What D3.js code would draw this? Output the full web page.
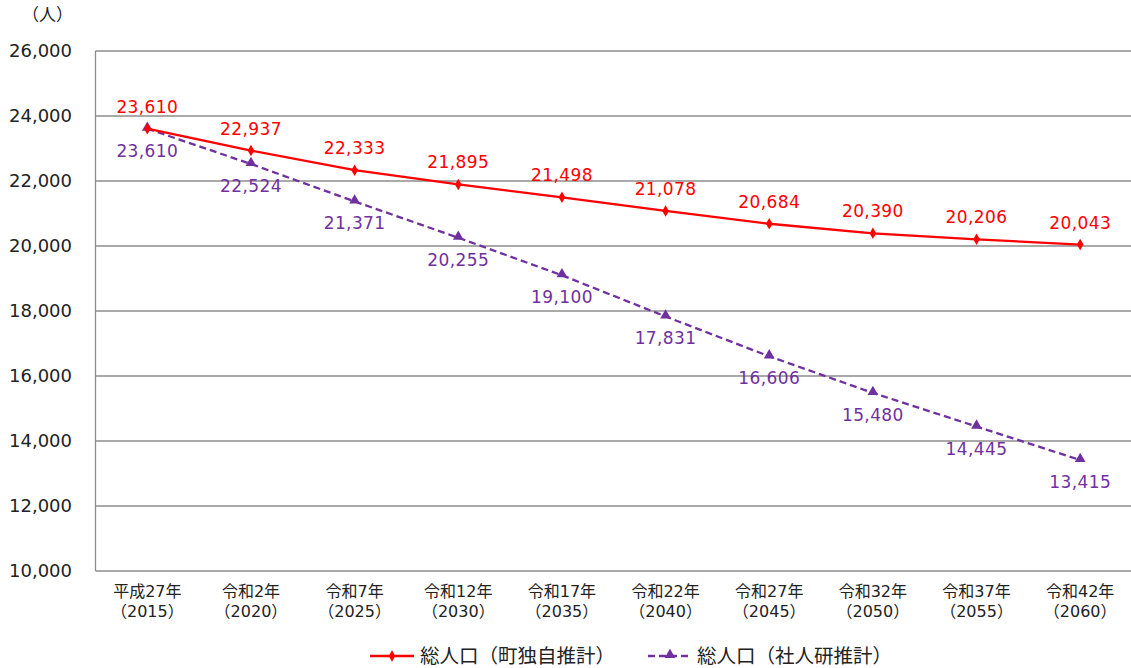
<!DOCTYPE html>
<html><head><meta charset="utf-8">
<script src="https://cdn.jsdelivr.net/npm/d3@7"></script>
<style>body{margin:0;background:#fff}svg{display:block}text{font-family:"DejaVu Sans","Noto Sans CJK JP",sans-serif}</style>
</head><body><svg id="c" width="1131" height="668"></svg>
<script>
const categories = ["平成27年","令和2年","令和7年","令和12年","令和17年","令和22年","令和27年","令和32年","令和37年","令和42年"];
const years = ["（2015）","（2020）","（2025）","（2030）","（2035）","（2040）","（2045）","（2050）","（2055）","（2060）"];
const townEstimate = [23610,22937,22333,21895,21498,21078,20684,20390,20206,20043];
const ipssEstimate = [23610,22524,21371,20255,19100,17831,16606,15480,14445,13415];
const yTicks = [10000,12000,14000,16000,18000,20000,22000,24000,26000];
const seriesNames = ["総人口（町独自推計）","総人口（社人研推計）"];

const svg = d3.select("#c");
const L = 95.5, R = 1132, T = 51, B = 571;
const x = d3.scaleBand().domain(categories).range([L, R]);
const y = d3.scaleLinear().domain([10000, 26000]).range([B, T]);
const fmt = d3.format(",");
const numFont = "'DejaVu Sans',sans-serif";

// gridlines
svg.append("g").selectAll("line").data(yTicks).join("line")
  .attr("x1", L).attr("x2", R).attr("y1", d => y(d)).attr("y2", d => y(d))
  .attr("stroke", "#8c8c8c").attr("stroke-width", 1.3);
svg.append("line").attr("x1", L).attr("x2", L).attr("y1", T).attr("y2", B)
  .attr("stroke", "#8c8c8c").attr("stroke-width", 1.3);

// y axis labels
const yAxis = d3.axisLeft(y).tickValues(yTicks).tickFormat(fmt).tickSize(0).tickPadding(0);
const yg = svg.append("g").attr("transform", `translate(72,0)`).call(yAxis);
yg.select(".domain").remove();
yg.selectAll("text").attr("font-size", 18).attr("fill", "#222")
  .style("font-family", numFont);
svg.append("text").attr("x", 22).attr("y", 21).attr("font-size", 17).attr("fill", "#222").text("（人）");

// x axis labels
const xg = svg.append("g");
categories.forEach((c, i) => {
  const cx = x(c) + x.bandwidth() / 2;
  xg.append("text").attr("x", cx).attr("y", 597).attr("text-anchor", "middle")
    .attr("font-size", 16).attr("fill", "#222").text(c);
  xg.append("text").attr("x", cx).attr("y", 617).attr("text-anchor", "middle")
    .attr("font-size", 16).attr("fill", "#222").text(years[i]);
});

const cxOf = (d, i) => x(categories[i]) + x.bandwidth() / 2;
const line = d3.line().x((d, i) => cxOf(d, i)).y(d => y(d));

// purple series
svg.append("path").datum(ipssEstimate).attr("d", line).attr("fill", "none")
  .attr("stroke", "#7030A0").attr("stroke-width", 2.3).attr("stroke-dasharray", "7,4");
svg.append("g").selectAll("path").data(ipssEstimate).join("path")
  .attr("d", d3.symbol(d3.symbolTriangle, 50))
  .attr("transform", (d, i) => `translate(${cxOf(d, i)},${y(d) - 1})`)
  .attr("fill", "#7030A0");

// red series
svg.append("path").datum(townEstimate).attr("d", line).attr("fill", "none")
  .attr("stroke", "#FF0000").attr("stroke-width", 2.3);
svg.append("g").selectAll("path").data(townEstimate).join("path")
  .attr("d", d3.symbol(d3.symbolDiamond, 38))
  .attr("transform", (d, i) => `translate(${cxOf(d, i)},${y(d)})`)
  .attr("fill", "#FF0000");

// labels
svg.append("g").selectAll("text").data(townEstimate).join("text")
  .attr("x", (d, i) => cxOf(d, i)).attr("y", d => y(d) - 16)
  .attr("text-anchor", "middle").attr("font-size", 17).attr("fill", "#FF0000")
  .attr("letter-spacing", 0.4)
  .style("font-family", numFont).text(d => fmt(d));
svg.append("g").selectAll("text").data(ipssEstimate).join("text")
  .attr("x", (d, i) => cxOf(d, i)).attr("y", d => y(d) + 28)
  .attr("text-anchor", "middle").attr("font-size", 17).attr("fill", "#7030A0")
  .attr("letter-spacing", 0.4)
  .style("font-family", numFont).text(d => fmt(d));

// legend
const lg = svg.append("g");
lg.append("line").attr("x1", 370).attr("x2", 414).attr("y1", 656).attr("y2", 656)
  .attr("stroke", "#FF0000").attr("stroke-width", 2.3);
lg.append("path").attr("d", d3.symbol(d3.symbolDiamond, 38)).attr("transform", "translate(392,656)").attr("fill", "#FF0000");
lg.append("text").attr("x", 420).attr("y", 663).attr("font-size", 19.5).attr("fill", "#222").text(seriesNames[0]);
lg.append("line").attr("x1", 648).attr("x2", 692).attr("y1", 656).attr("y2", 656)
  .attr("stroke", "#7030A0").attr("stroke-width", 2.3).attr("stroke-dasharray", "7,4");
lg.append("path").attr("d", d3.symbol(d3.symbolTriangle, 50)).attr("transform", "translate(670,655)").attr("fill", "#7030A0");
lg.append("text").attr("x", 697).attr("y", 663).attr("font-size", 19.5).attr("fill", "#222").text(seriesNames[1]);
</script></body></html>
